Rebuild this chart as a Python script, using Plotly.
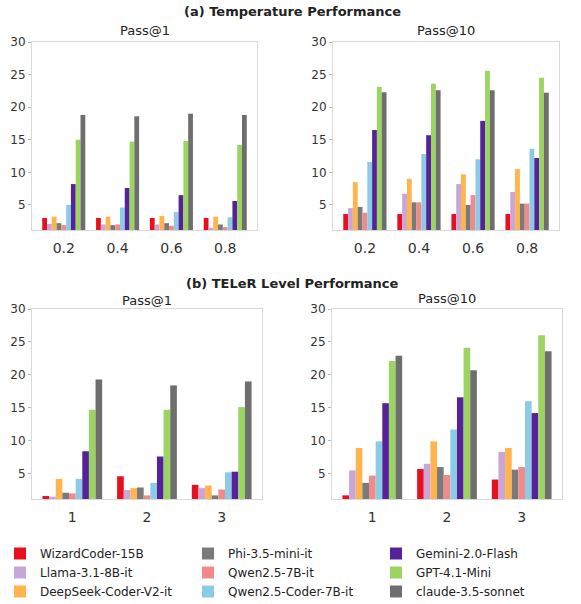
import plotly.graph_objects as go

models = ["WizardCoder-15B", "Llama-3.1-8B-it", "DeepSeek-Coder-V2-it", "Phi-3.5-mini-it",
          "Qwen2.5-7B-it", "Qwen2.5-Coder-7B-it", "Gemini-2.0-Flash", "GPT-4.1-Mini", "claude-3.5-sonnet"]
colors = ["#e8101e", "#c9a6d9", "#ffb44d", "#7a7a7a", "#f28a8a", "#8ccbe6", "#55229a", "#9bd461", "#6e6e6e"]
legend_rank = [1, 4, 7, 2, 5, 8, 3, 6, 9]

temps = ["0.2", "0.4", "0.6", "0.8"]
levels = ["1", "2", "3"]

# rows = models, cols = temperature
temp_pass1 = [
    [3.0, 3.0, 3.0, 3.0],
    [2.1, 2.0, 2.0, 1.5],
    [3.2, 3.2, 3.3, 3.2],
    [2.2, 1.9, 2.2, 2.0],
    [1.9, 2.0, 1.8, 1.6],
    [5.0, 4.6, 3.9, 3.1],
    [8.2, 7.6, 6.5, 5.6],
    [15.0, 14.7, 14.8, 14.2],
    [18.8, 18.6, 19.0, 18.8],
]
temp_pass10 = [
    [3.6, 3.6, 3.6, 3.6],
    [4.5, 6.7, 8.2, 7.0],
    [8.5, 9.0, 9.7, 10.5],
    [4.7, 5.4, 5.0, 5.2],
    [3.8, 5.4, 6.5, 5.2],
    [11.6, 12.8, 12.0, 13.6],
    [16.5, 15.7, 17.9, 12.2],
    [23.1, 23.6, 25.6, 24.5],
    [22.3, 22.6, 22.6, 22.2],
]
teler_pass1 = [
    [1.6, 4.6, 3.3],
    [1.5, 2.5, 2.8],
    [4.2, 2.8, 3.2],
    [2.1, 2.9, 1.7],
    [2.0, 1.7, 2.6],
    [4.2, 3.6, 5.2],
    [8.4, 7.6, 5.3],
    [14.7, 14.7, 15.1],
    [19.3, 18.4, 19.0],
]
teler_pass10 = [
    [1.7, 5.7, 4.1],
    [5.5, 6.5, 8.3],
    [8.9, 9.9, 8.9],
    [3.6, 6.0, 5.6],
    [4.7, 4.8, 6.0],
    [9.9, 11.7, 16.0],
    [15.7, 16.6, 14.2],
    [22.1, 24.1, 26.0],
    [22.9, 20.7, 23.6],
]

W, H = 581, 604

def px(x0, x1):
    return [x0 / W, x1 / W]

def py(top, bottom):
    return [1 - bottom / H, 1 - top / H]

panels = [
    (temp_pass1, temps, px(32, 257), py(42, 230), ""),
    (temp_pass10, temps, px(333, 559), py(42, 230), "2"),
    (teler_pass1, levels, px(32, 262), py(309, 499), "3"),
    (teler_pass10, levels, px(332, 562), py(309, 499), "4"),
]

fig = go.Figure()
for pi, (data, cats, xd, yd, sfx) in enumerate(panels):
    xs = list(range(len(cats)))
    for mi, name in enumerate(models):
        fig.add_trace(go.Bar(
            x=xs, y=data[mi], name=name, marker_color=colors[mi],
            marker_line_width=0, xaxis="x" + sfx, yaxis="y" + sfx,
            showlegend=(pi == 0), legendrank=legend_rank[mi], base=0,
        ))
    n = len(cats)
    margin = 0.05 * (n - 1 + 0.8)
    axis_common = dict(showgrid=False, zeroline=False, showline=True, mirror=True,
                       linecolor="#d9d9d9", linewidth=1)
    fig.layout["xaxis" + sfx] = dict(
        domain=xd, anchor="y" + sfx, range=[-0.4 - margin, n - 1 + 0.4 + margin],
        tickmode="array", tickvals=xs, ticktext=cats, ticks="", ticklabelstandoff=5,
        tickfont=dict(family="DejaVu Sans", size=14, color="#333333"), **axis_common)
    fig.layout["yaxis" + sfx] = dict(
        domain=yd, anchor="x" + sfx, range=[1.15, 30],
        tickmode="array", tickvals=[5, 10, 15, 20, 25, 30], ticks="outside", ticklen=3,
        tickcolor="#bbbbbb", tickfont=dict(family="DejaVu Sans", size=12, color="#333333"),
        **axis_common)

annotations = [
    dict(text="<b>(a) Temperature Performance</b>", x=292 / W, y=1 - 12 / H, size=13),
    dict(text="<b>(b) TELeR Level Performance</b>", x=292 / W, y=1 - 283 / H, size=13),
    dict(text="Pass@1", x=145 / W, y=1 - 31 / H, size=13),
    dict(text="Pass@10", x=446 / W, y=1 - 31 / H, size=13),
    dict(text="Pass@1", x=147 / W, y=1 - 300 / H, size=13),
    dict(text="Pass@10", x=447 / W, y=1 - 298 / H, size=13),
]
for a in annotations:
    fig.add_annotation(text=a["text"], x=a["x"], y=a["y"], xref="paper", yref="paper",
                       xanchor="center", yanchor="middle", showarrow=False,
                       font=dict(family="DejaVu Sans", size=a["size"], color="#222222"))

fig.update_layout(
    width=W, height=H,
    margin=dict(l=0, r=0, t=0, b=0, autoexpand=False),
    paper_bgcolor="white", plot_bgcolor="white",
    barmode="group", bargap=0.2, bargroupgap=0,
    legend=dict(orientation="h", x=0.0, xanchor="left", y=1 - 539 / H, yanchor="top",
                entrywidth=143, entrywidthmode="pixels", traceorder="normal",
                font=dict(family="DejaVu Sans", size=12, color="#222222"),
                bgcolor="rgba(0,0,0,0)", itemwidth=30, tracegroupgap=0),
)

fig.write_html("out.html")
